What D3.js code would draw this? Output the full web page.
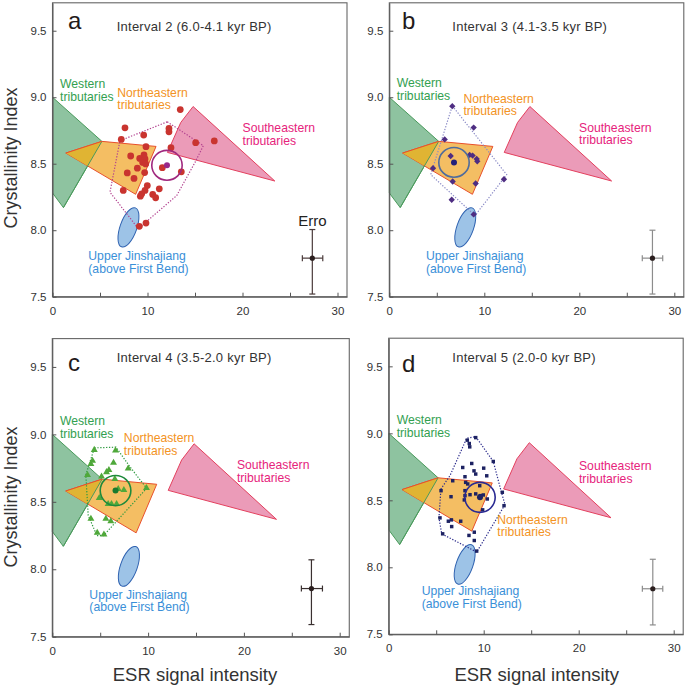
<!DOCTYPE html>
<html><head><meta charset="utf-8">
<script src="https://cdn.jsdelivr.net/npm/d3@7"></script>
<style>
body{margin:0;background:#fff}
svg{display:block}
text{font-family:"Liberation Sans",Arial,Helvetica,sans-serif}
</style>
</head><body>
<svg id="chart" width="685" height="685"></svg>
<script>
// ---------- data ----------
const panelLetters = ["a","b","c","d"];
const panelTitles = ["Interval 2 (6.0-4.1 kyr BP)","Interval 3 (4.1-3.5 kyr BP)","Interval 4 (3.5-2.0 kyr BP)","Interval 5 (2.0-0 kyr BP)"];
const xTicks = [0,5,10,15,20,25,30];
const xTickLabels = [0,10,20,30];
const yTicks = [7.5,8.0,8.5,9.0,9.5];
const xTitle = "ESR signal intensity";
const yTitle = "Crystallinity Index";

// source regions (ESR, CI)
const western = [[0,9.0],[5.2,8.668],[1.15,8.17],[0,8.28]];
const northeastern = [[1.4,8.58],[5.2,8.668],[10.9,8.63],[8.75,8.27]];
const southeastern = [[12.1,8.585],[13.5,8.81],[14.8,8.93],[23.4,8.37]];
const jinshaTop = [8.72,8.168];
const jinshaBottom = [7.27,7.875];
const jinshaHalfWidth = 0.88;

// samples
const pointsA = [[13.45,8.907],[7.63,8.77],[12.26,8.765],[12.26,8.74],[9.6,8.715],[7.24,8.683],[9.84,8.628],[12.47,8.62],[15.07,8.658],[17.03,8.671],[8.23,8.558],[9.63,8.566],[9.18,8.54],[9.74,8.536],[9.49,8.51],[9.81,8.498],[11.56,8.47],[8.93,8.466],[9.7,8.433],[7.87,8.431],[13.56,8.439],[8.58,8.389],[9.98,8.336],[11.24,8.311],[9.74,8.299],[9.39,8.274],[10.55,8.269],[9.25,8.256],[10.86,8.244],[7.45,8.299],[9.84,8.054],[9.14,8.029]];
const pointsB = [[6.63,8.933],[8.88,8.772],[5.83,8.683],[6.46,8.558],[8.46,8.566],[8.77,8.561],[9.2,8.536],[9.26,8.518],[4.6,8.466],[6.67,8.366],[9.09,8.351],[12.07,8.383],[6.57,8.229],[8.88,8.119]];
const pointsC = [[4.38,8.885],[6.6,8.88],[4.2,8.804],[4.03,8.78],[6.39,8.79],[7.92,8.747],[5.91,8.735],[5.66,8.72],[3.68,8.698],[5.14,8.688],[6.53,8.669],[9.83,8.602],[6.88,8.595],[7.47,8.588],[4.9,8.529],[5.83,8.484],[6.18,8.484],[6.71,8.484],[4.03,8.374],[5.59,8.374],[6.11,8.356],[4.69,8.27],[5.39,8.258]];
const pointsD = [[9.16,8.968],[8.27,8.949],[8.48,8.924],[8.53,8.899],[11.01,8.79],[8.74,8.775],[7.79,8.745],[8.98,8.72],[10.0,8.74],[9.16,8.696],[8.03,8.676],[6.74,8.646],[8.1,8.634],[10.32,8.683],[9.58,8.609],[8.32,8.622],[5.51,8.572],[8.03,8.572],[9.16,8.548],[8.56,8.542],[8.03,8.535],[9.64,8.535],[9.96,8.54],[6.56,8.527],[7.96,8.503],[10.38,8.51],[9.89,8.429],[11.96,8.56],[12.14,8.46],[5.4,8.369],[6.6,8.354],[6.28,8.344],[7.58,8.344],[6.63,8.304],[9.01,8.262],[8.45,8.238],[9.01,8.2],[9.26,8.121],[5.68,8.25]];
const means = [[12.05,8.488],[6.81,8.51],[6.6,8.583],[9.61,8.522]];
const meanRadius = [1.6,0.112];
const hullA = [[12.08,8.815],[15.88,8.636],[15.0,8.51],[13.07,8.26],[9.03,8.012],[6.05,8.286],[7.1,8.673]];
const hullB = [[6.63,8.935],[12.36,8.418],[9.02,8.11],[4.36,8.418]];
const hullC = [[4.4,8.9],[6.65,8.905],[8.1,8.76],[9.85,8.6],[5.35,8.25],[4.65,8.25],[3.75,8.4],[3.5,8.7]];
const hullD = [[9.16,8.975],[11.01,8.79],[11.82,8.572],[12.24,8.468],[9.26,8.114],[5.58,8.25],[5.29,8.37],[5.5,8.585],[6.45,8.684],[8.21,8.963]];
// error bars: [x, y, xLow, xHigh, yLow, yHigh]
const errorBars = [[27.35,7.79,26.3,28.45,7.52,8.005],[27.7,7.79,26.63,28.78,7.52,8.0],[27.05,7.857,26.0,28.2,7.59,8.07],[27.8,7.84,26.7,28.85,7.57,8.06]];

// ---------- layout & style ----------
const boxes = [
  {l:52.5, r:52.5+31*9.5, t:2.8, b:296.7},
  {l:389.3, r:389.3+31*9.5, t:2.8, b:296.7},
  {l:52.3, r:52.3+31*9.58, t:338.6, b:636.7},
  {l:388.7, r:388.7+31*9.5, t:338.2, b:634.3}
];
const samples = [pointsA,pointsB,pointsC,pointsD];
const hulls = [hullA,hullB,hullC,hullD];
const styles = [
  {sym:d3.symbolCircle, size:36, rot:0, fill:"#c9342f", hull:"#b2418f", circ:"#a0287e", mean:"#98288a", err:"#4a3a3a"},
  {sym:d3.symbolSquare, size:20, rot:45, fill:"#4e2d82", hull:"#8a8ac6", circ:"#4f6c9c", mean:"#23207a", err:"#8c8c8c"},
  {sym:d3.symbolTriangle, size:21, rot:0, fill:"#4fa83a", hull:"#2f9a40", circ:"#1f8a3c", mean:"#1a7a2e", err:"#3a3030"},
  {sym:d3.symbolSquare, size:12, rot:0, fill:"#1d2262", hull:"#2b2b8c", circ:"#2a2a92", mean:"#1d2262", err:"#8c8c8c"}
];
const labelPos = [
  {w:[0.79,9.067], ne:[6.82,9.005], se:[20.0,8.735], uj:[3.77,7.775]},
  {w:[0.78,9.077], ne:[7.8,8.96], se:[19.97,8.74], uj:[3.86,7.775]},
  {w:[0.8,9.07], ne:[7.47,8.94], se:[19.27,8.743], uj:[3.87,7.783]},
  {w:[0.84,9.068], ne:[11.43,8.325], se:[20.03,8.726], uj:[3.47,7.79]}
];
const letterPos = [[68,28.5],[402,28.5],[68,370.5],[402,371.5]];
const titlePos = [[116.7,30.5],[452.3,30.5],[116.7,362.3],[452.3,361.7]];

const svg = d3.select("#chart");
const defs = svg.append("defs");

boxes.forEach((bx, i) => {
  const x = d3.scaleLinear().domain([0,31]).range([bx.l, bx.r]);
  const y = d3.scaleLinear().domain([7.5,9.71]).range([bx.b, bx.t]);
  const line = d3.line().x(d=>x(d[0])).y(d=>y(d[1]));
  const poly = d => line(d) + "Z";
  const st = styles[i];
  const g = svg.append("g");

  // western
  g.append("path").attr("d", poly(western)).attr("fill","#8ec3a0").attr("stroke","#4a9a5c").attr("stroke-width",1);
  // northeastern
  g.append("path").attr("d", poly(northeastern)).attr("fill","#f4be63").attr("stroke","#e8502c").attr("stroke-width",1);
  // overlap
  const cid = "clipW"+i;
  defs.append("clipPath").attr("id",cid).append("path").attr("d", poly(western));
  g.append("path").attr("d", poly(northeastern)).attr("fill","#e0b433").attr("clip-path",`url(#${cid})`);
  g.append("path").attr("d", line([western[1],western[2]])).attr("fill","none").attr("stroke","#4a9a5c").attr("stroke-width",1);
  g.append("path").attr("d", line([northeastern[0],northeastern[1]])).attr("fill","none").attr("stroke","#e8502c").attr("stroke-width",1);
  // southeastern
  g.append("path").attr("d", poly(southeastern)).attr("fill","#eb9bb8").attr("stroke","#e3405e").attr("stroke-width",1);
  // upper jinshajiang ellipse
  const p1=[x(jinshaTop[0]),y(jinshaTop[1])], p2=[x(jinshaBottom[0]),y(jinshaBottom[1])];
  const ecx=(p1[0]+p2[0])/2, ecy=(p1[1]+p2[1])/2;
  const ea=Math.hypot(p1[0]-p2[0],p1[1]-p2[1])/2;
  const eang=Math.atan2(p1[1]-p2[1],p1[0]-p2[0])*180/Math.PI;
  const eb=x(jinshaHalfWidth)-x(0);
  g.append("ellipse").attr("cx",ecx).attr("cy",ecy).attr("rx",ea).attr("ry",eb)
    .attr("transform",`rotate(${eang},${ecx},${ecy})`)
    .attr("fill","#9dc3e7").attr("stroke","#2f62b0").attr("stroke-width",1);

  // hull
  g.append("path").attr("d", poly(hulls[i])).attr("fill","none").attr("stroke",st.hull)
    .attr("stroke-width",1.2).attr("stroke-dasharray","1.3,1.6");

  // points
  const sym = d3.symbol().type(st.sym).size(st.size);
  g.selectAll(null).data(samples[i]).enter().append("path")
    .attr("d", sym)
    .attr("transform", d=>`translate(${x(d[0])},${y(d[1])}) rotate(${st.rot})`)
    .attr("fill", st.fill);

  // mean circle and dot
  const m = means[i];
  g.append("ellipse").attr("cx",x(m[0])).attr("cy",y(m[1]))
    .attr("rx", x(m[0]+meanRadius[0])-x(m[0])).attr("ry", y(m[1])-y(m[1]+meanRadius[1]))
    .attr("fill","none").attr("stroke",st.circ).attr("stroke-width",1.6);
  g.append("circle").attr("cx",x(m[0])).attr("cy",y(m[1])).attr("r",3).attr("fill",st.mean);

  // labels
  const lp = labelPos[i];
  function lab(pos, lines, color){
    const t = g.append("text").attr("x",x(pos[0])).attr("y",y(pos[1])).attr("fill",color).attr("font-size",12.2);
    lines.forEach((s,k)=>t.append("tspan").attr("x",x(pos[0])).attr("dy",k?12.6:0).text(s));
  }
  lab(lp.w, ["Western","tributaries"], "#33a050");
  lab(lp.ne, ["Northeastern","tributaries"], "#f39324");
  lab(lp.se, ["Southeastern","tributaries"], "#e6237c");
  lab(lp.uj, ["Upper Jinshajiang","(above First Bend)"], "#3a8fd8");

  // error bar
  const e = errorBars[i];
  const eg = g.append("g").attr("stroke",st.err).attr("stroke-width",1.2);
  eg.append("line").attr("x1",x(e[0])).attr("x2",x(e[0])).attr("y1",y(e[4])).attr("y2",y(e[5]));
  eg.append("line").attr("x1",x(e[2])).attr("x2",x(e[3])).attr("y1",y(e[1])).attr("y2",y(e[1]));
  [e[4],e[5]].forEach(v=>eg.append("line").attr("x1",x(e[0])-3).attr("x2",x(e[0])+3).attr("y1",y(v)).attr("y2",y(v)));
  [e[2],e[3]].forEach(v=>eg.append("line").attr("x1",x(v)).attr("x2",x(v)).attr("y1",y(e[1])-3).attr("y2",y(e[1])+3));
  g.append("circle").attr("cx",x(e[0])).attr("cy",y(e[1])).attr("r",2.6).attr("fill","#2a1e1e");
  if (i===0) {
    g.append("text").attr("x",x(e[0])).attr("y",y(8.03)).attr("text-anchor","middle")
      .attr("font-size",15).attr("fill","#222").text("Erro");
  }

  // frame
  g.append("rect").attr("x",bx.l).attr("y",bx.t).attr("width",bx.r-bx.l).attr("height",bx.b-bx.t)
    .attr("fill","none").attr("stroke","#666").attr("stroke-width",1.1);
  // axes
  const xa = d3.axisBottom(x).tickValues(xTicks).tickSizeInner(-4).tickSizeOuter(0)
    .tickFormat(d=> xTickLabels.includes(d) ? d : "");
  const xg = g.append("g").attr("transform",`translate(0,${bx.b})`).call(xa);
  xg.select(".domain").attr("stroke","#555");
  xg.selectAll(".tick line").attr("stroke","#555");
  xg.selectAll("text").attr("font-size",11.5).attr("fill","#333").attr("y",10).attr("dy","0.71em");
  const ya = d3.axisLeft(y).tickValues(yTicks).tickSizeInner(-4).tickSizeOuter(0).tickFormat(d3.format(".1f"));
  const yg = g.append("g").attr("transform",`translate(${bx.l},0)`).call(ya);
  yg.select(".domain").attr("stroke","#555");
  yg.selectAll(".tick line").attr("stroke","#555");
  yg.selectAll("text").attr("font-size",11.5).attr("fill","#333").attr("x",-6);
  xg.attr("font-family",null); yg.attr("font-family",null);

  // panel letter & title
  g.append("text").attr("x",letterPos[i][0]).attr("y",letterPos[i][1]).attr("font-size",24).attr("fill","#231a1a").text(panelLetters[i]);
  g.append("text").attr("x",titlePos[i][0]).attr("y",titlePos[i][1]).attr("font-size",13).attr("letter-spacing",0.25).attr("fill","#333").text(panelTitles[i]);
});

// axis titles
[[17,158],[17,497]].forEach(p=>{
  svg.append("text").attr("transform",`translate(${p[0]},${p[1]}) rotate(-90)`).attr("text-anchor","middle")
    .attr("font-size",18).attr("fill","#333").text(yTitle);
});
[[195,681],[536.7,681]].forEach(p=>{
  svg.append("text").attr("x",p[0]).attr("y",p[1]).attr("text-anchor","middle")
    .attr("font-size",18.5).attr("fill","#333").text(xTitle);
});
</script>
</body></html>
